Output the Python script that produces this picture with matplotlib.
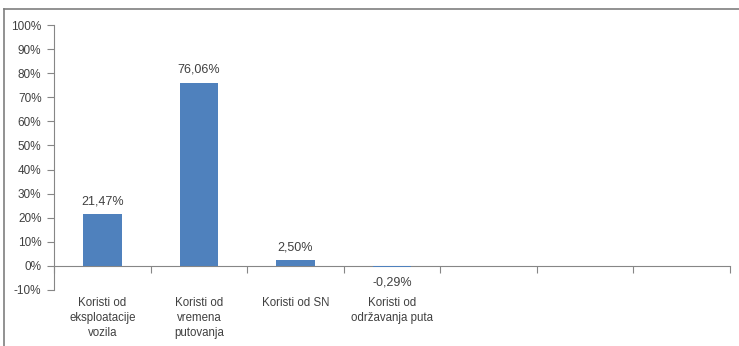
import matplotlib.pyplot as plt
from matplotlib.lines import Line2D
import matplotlib.transforms as mtransforms

categories = ["Koristi od\neksploatacije\nvozila", "Koristi od\nvremena\nputovanja",
              "Koristi od SN", "Koristi od\nodržavanja puta", "", "", ""]
values = [21.47, 76.06, 2.50, -0.29]
yticks = list(range(-10, 101, 10))

bar_color = "#4F81BD"
axis_color = "#868686"
text_color = "#404040"

plt.rcParams['font.family'] = ['Liberation Sans', 'DejaVu Sans']

fig = plt.figure(figsize=(7.39, 3.46), dpi=100)
ax = fig.add_axes([54 / 739, 1 - 290 / 346, (730 - 54) / 739, (290 - 25) / 346])

n = len(categories)
x = list(range(len(values)))
ax.bar(x, values, width=0.4, color=bar_color, zorder=3)

ax.set_xlim(-0.5, n - 0.5)
ax.set_ylim(-10, 100)
ax.set_yticks(yticks)
ax.set_yticklabels([f"{t}%" for t in yticks], color=text_color, fontsize=8.5)
ax.tick_params(axis='y', direction='out', length=5, width=0.8, color=axis_color, pad=4)

for s in ['top', 'right']:
    ax.spines[s].set_visible(False)
ax.spines['left'].set_color(axis_color)
ax.spines['left'].set_linewidth(0.8)
ax.spines['bottom'].set_position(('data', 0))
ax.spines['bottom'].set_color(axis_color)
ax.spines['bottom'].set_linewidth(0.8)
ax.set_xticks([i + 0.5 for i in range(-1, n)])
ax.set_xticklabels([])
ax.tick_params(axis='x', direction='out', length=5, width=0.8, color=axis_color)

# category labels below the plot area
trans = mtransforms.blended_transform_factory(ax.transData, ax.transAxes)
for i, c in enumerate(categories):
    ax.text(i, -0.028, c, transform=trans, ha='center', va='top', fontsize=8.3,
            color=text_color, linespacing=1.3)

# value labels
for i, v in enumerate(values):
    lbl = f"{v:.2f}%".replace('.', ',')
    if v >= 0:
        ax.text(i, v + 2.8, lbl, ha='center', va='bottom', fontsize=9, color=text_color)
    else:
        ax.text(i, v - 6.5, lbl, ha='center', va='center', fontsize=9, color=text_color)

# outer frame (top and left only)
fig.add_artist(Line2D([4 / 739, 1], [1 - 9 / 346] * 2, transform=fig.transFigure,
                      color="#7F7F7F", lw=1.2))
fig.add_artist(Line2D([4 / 739] * 2, [0, 1 - 9 / 346], transform=fig.transFigure,
                      color="#7F7F7F", lw=1.2))

fig.savefig("out.png", dpi=100)
